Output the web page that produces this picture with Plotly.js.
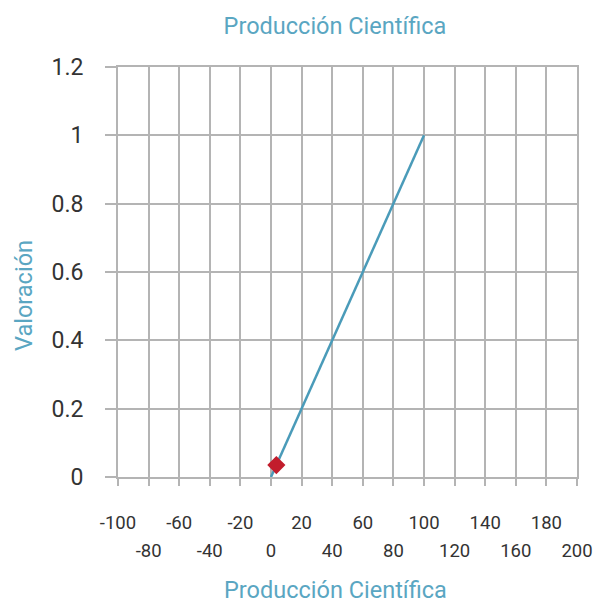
<!DOCTYPE html>
<html>
<head>
<meta charset="utf-8">
<script src="https://cdn.plot.ly/plotly-3.0.1.min.js"></script>
<style>html,body{margin:0;padding:0;background:#fff;}#chart{width:601px;height:606px;}</style>
</head>
<body>
<div id="chart"></div>
<script>
// Data
const lineX = [0, 100];
const lineY = [0, 1];
const pointX = [3.5];
const pointY = [0.035];
const xTickVals = [-100, -80, -60, -40, -20, 0, 20, 40, 60, 80, 100, 120, 140, 160, 180, 200];
const xTickLabels = ["-100", "-80", "-60", "-40", "-20", "0", "20", "40", "60", "80", "100", "120", "140", "160", "180", "200"];
const yTickVals = [0, 0.2, 0.4, 0.6, 0.8, 1, 1.2];
const yTickLabels = ["0", "0.2", "0.4", "0.6", "0.8", "1", "1.2"];
const titleText = "Producción Científica";
const xTitleText = "Producción Científica";
const yTitleText = "Valoración";

const gridColor = "#b4b4b4";
const titleColor = "#5aa6c2";
const fontFam = "Roboto, 'DejaVu Sans', sans-serif";

// staggered tick labels: upper row (even index) on xaxis, lower row (odd index) on xaxis2
const lowerVals = xTickVals.filter((v, i) => i % 2 === 1);
const lowerText = xTickLabels.filter((v, i) => i % 2 === 1);

const traces = [
  {
    x: lineX, y: lineY, type: "scatter", mode: "lines", xaxis: "x", yaxis: "y",
    line: {color: "#4a9bb9", width: 2.5}, hoverinfo: "skip", showlegend: false
  },
  {
    x: pointX, y: pointY, type: "scatter", mode: "markers", xaxis: "x2", yaxis: "y",
    marker: {symbol: "diamond", size: 14, color: "#c21d2c"}, showlegend: false
  }
];

const tickFontX = {family: fontFam, size: 18.5, color: "#333"};

const layout = {
  width: 601, height: 606,
  margin: {l: 118, r: 24, t: 67, b: 129, pad: 0},
  paper_bgcolor: "#fff", plot_bgcolor: "#fff",
  showlegend: false,
  font: {family: fontFam, color: "#333"},
  title: {text: titleText, font: {family: fontFam, size: 23.5, color: titleColor},
          x: 335 / 601, xanchor: "center", xref: "container",
          y: 1 - 26 / 606, yanchor: "middle", yref: "container"},
  xaxis: {
    range: [-100, 200], tickvals: xTickVals, ticktext: xTickLabels.map((t, i) => (i % 2 === 0 ? t : "")),
    showgrid: true, gridcolor: gridColor, gridwidth: 2,
    zeroline: false, showline: true, mirror: true, linecolor: gridColor, linewidth: 2,
    ticks: "outside", ticklen: 7, tickcolor: gridColor, tickwidth: 2,
    tickfont: tickFontX, tickangle: 0,
    ticklabelstandoff: 21, fixedrange: true
  },
  xaxis2: {
    overlaying: "x", matches: "x", side: "bottom", anchor: "y",
    range: [-100, 200], tickvals: lowerVals, ticktext: lowerText,
    showgrid: false, zeroline: false, showline: false,
    ticks: "", tickfont: tickFontX, tickangle: 0,
    ticklabelstandoff: 60, fixedrange: true
  },
  yaxis: {
    range: [0, 1.2], tickvals: yTickVals, ticktext: yTickLabels,
    showgrid: true, gridcolor: gridColor, gridwidth: 2,
    zeroline: false, showline: true, mirror: true, linecolor: gridColor, linewidth: 2,
    ticks: "outside", ticklen: 11, tickcolor: gridColor, tickwidth: 2,
    tickfont: {family: fontFam, size: 23, color: "#333"},
    ticklabelstandoff: 17, fixedrange: true
  },
  annotations: [
    {text: xTitleText, xref: "paper", yref: "paper", x: (335 - 118) / 459, y: -129 / 410,
     xanchor: "center", yanchor: "bottom", showarrow: false,
     font: {family: fontFam, size: 23.5, color: titleColor}},
    {text: yTitleText, xref: "paper", yref: "paper", x: (24 - 118) / 459, y: (477 - 296) / 410,
     xanchor: "center", yanchor: "middle", showarrow: false, textangle: -90,
     font: {family: fontFam, size: 23.5, color: titleColor}}
  ]
};

Plotly.newPlot("chart", traces, layout, {displayModeBar: false, staticPlot: true});
</script>
</body>
</html>
